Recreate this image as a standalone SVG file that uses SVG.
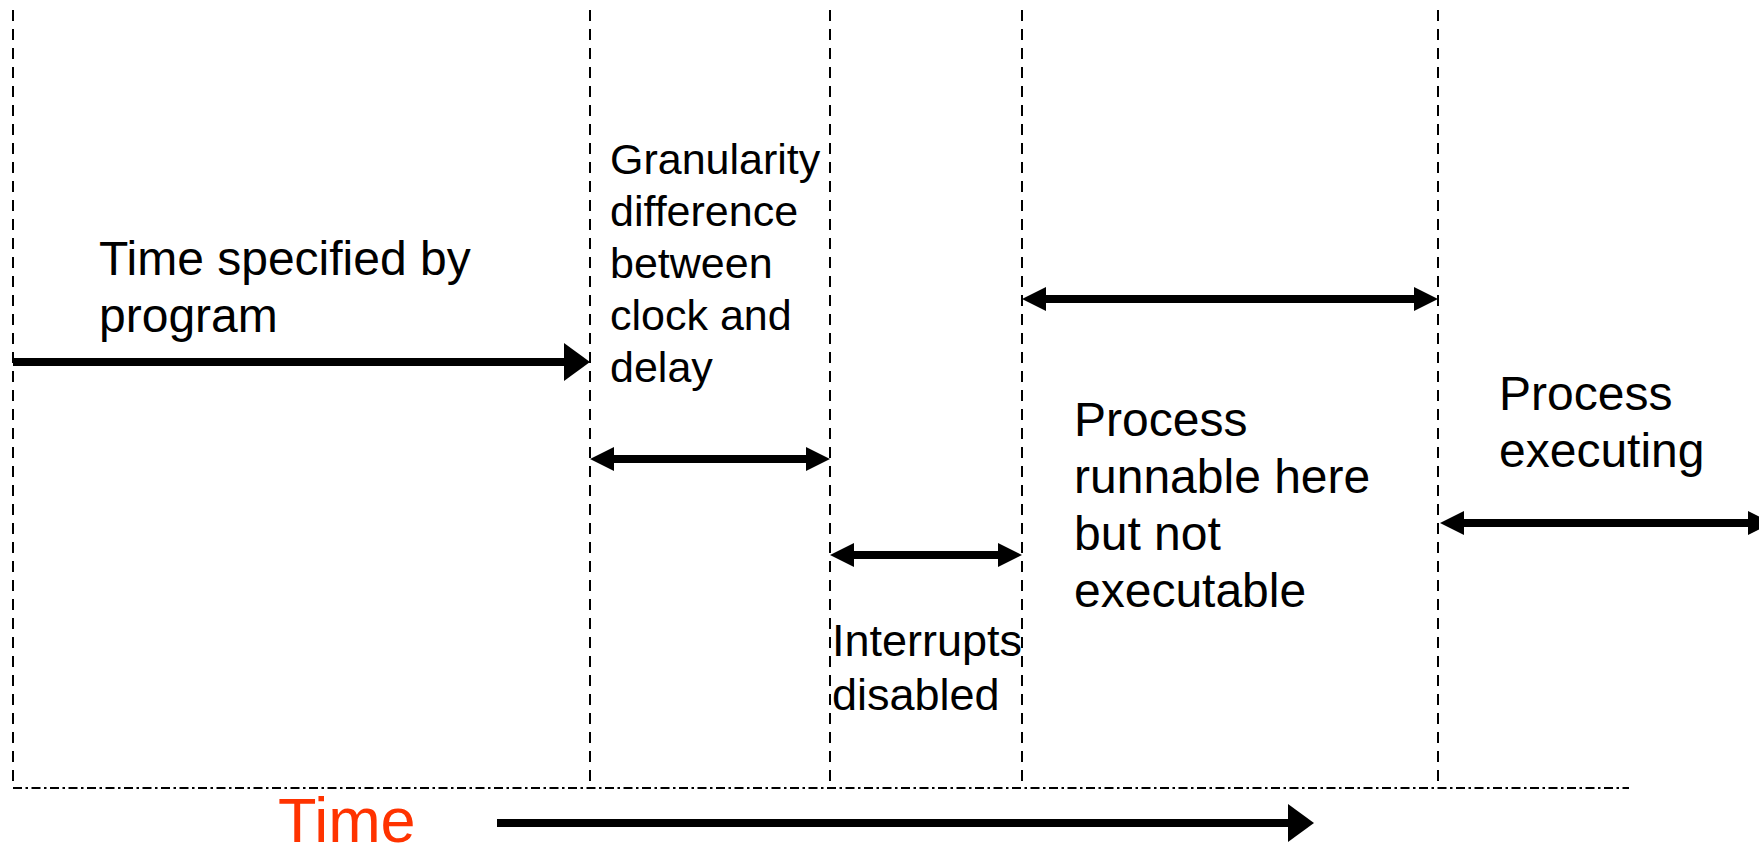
<svg xmlns="http://www.w3.org/2000/svg" width="1759" height="847" viewBox="0 0 1759 847">
  <style>
    .guide { stroke: #000; stroke-width: 2; stroke-dasharray: 11 8; fill: none; }
    .axis { stroke: #000; stroke-width: 2; stroke-dasharray: 9 3.5 2.5 3.5; fill: none; }
    .span { stroke: #000; stroke-width: 8; fill: none; }
    .lbl { font-family: "Liberation Sans", Arial, sans-serif; fill: #000; }
    .big { font-size: 48px; }
    .small { font-size: 43px; }
    .mid { font-size: 45px; }
    .time { font-family: "Liberation Sans", Arial, sans-serif; font-size: 63px; fill: #FF3300; }
  </style>
  <defs>
    <marker id="head" markerUnits="userSpaceOnUse" viewBox="0 0 24 24" markerWidth="24" markerHeight="24" refX="0" refY="12" orient="auto-start-reverse">
      <path d="M0,0 L24,12 L0,24 Z" fill="#000"/>
    </marker>
    <marker id="headLarge" markerUnits="userSpaceOnUse" viewBox="0 0 26 38" markerWidth="26" markerHeight="38" refX="0" refY="19" orient="auto">
      <path d="M0,0 L26,19 L0,38 Z" fill="#000"/>
    </marker>
  </defs>

  <!-- phase boundaries -->
  <g id="boundaries">
    <line class="guide" x1="13" y1="10" x2="13" y2="788"/>
    <line class="guide" x1="590" y1="10" x2="590" y2="788"/>
    <line class="guide" x1="830" y1="10" x2="830" y2="788"/>
    <line class="guide" x1="1022" y1="10" x2="1022" y2="788"/>
    <line class="guide" x1="1438" y1="10" x2="1438" y2="788"/>
    <line class="axis" x1="13" y1="788" x2="1629" y2="788"/>
  </g>

  <!-- interval arrows -->
  <g id="connectors">
    <line class="span" x1="13" y1="362" x2="564" y2="362" marker-end="url(#headLarge)"/>
    <line class="span" x1="614" y1="459" x2="806" y2="459" marker-start="url(#head)" marker-end="url(#head)"/>
    <line class="span" x1="854" y1="555" x2="998" y2="555" marker-start="url(#head)" marker-end="url(#head)"/>
    <line class="span" x1="1046" y1="299" x2="1414" y2="299" marker-start="url(#head)" marker-end="url(#head)"/>
    <line class="span" x1="1464" y1="523" x2="1748" y2="523" marker-start="url(#head)" marker-end="url(#head)"/>
    <line class="span" x1="497" y1="823" x2="1288" y2="823" marker-end="url(#headLarge)"/>
  </g>

  <g id="label-program">
    <text class="lbl big" x="99" y="275">Time specified by</text>
    <text class="lbl big" x="99" y="332">program</text>
  </g>

  <g id="label-granularity">
    <text class="lbl small" x="610" y="174">Granularity</text>
    <text class="lbl small" x="610" y="226">difference</text>
    <text class="lbl small" x="610" y="278">between</text>
    <text class="lbl small" x="610" y="330">clock and</text>
    <text class="lbl small" x="610" y="382">delay</text>
  </g>

  <g id="label-interrupts">
    <text class="lbl mid" x="832" y="656">Interrupts</text>
    <text class="lbl mid" x="832" y="710">disabled</text>
  </g>

  <g id="label-runnable">
    <text class="lbl big" x="1074" y="436">Process</text>
    <text class="lbl big" x="1074" y="493">runnable here</text>
    <text class="lbl big" x="1074" y="550">but not</text>
    <text class="lbl big" x="1074" y="607">executable</text>
  </g>

  <g id="label-executing">
    <text class="lbl big" x="1499" y="410">Process</text>
    <text class="lbl big" x="1499" y="467">executing</text>
  </g>

  <g id="label-time">
    <text class="time" x="278" y="842">Time</text>
  </g>
</svg>
